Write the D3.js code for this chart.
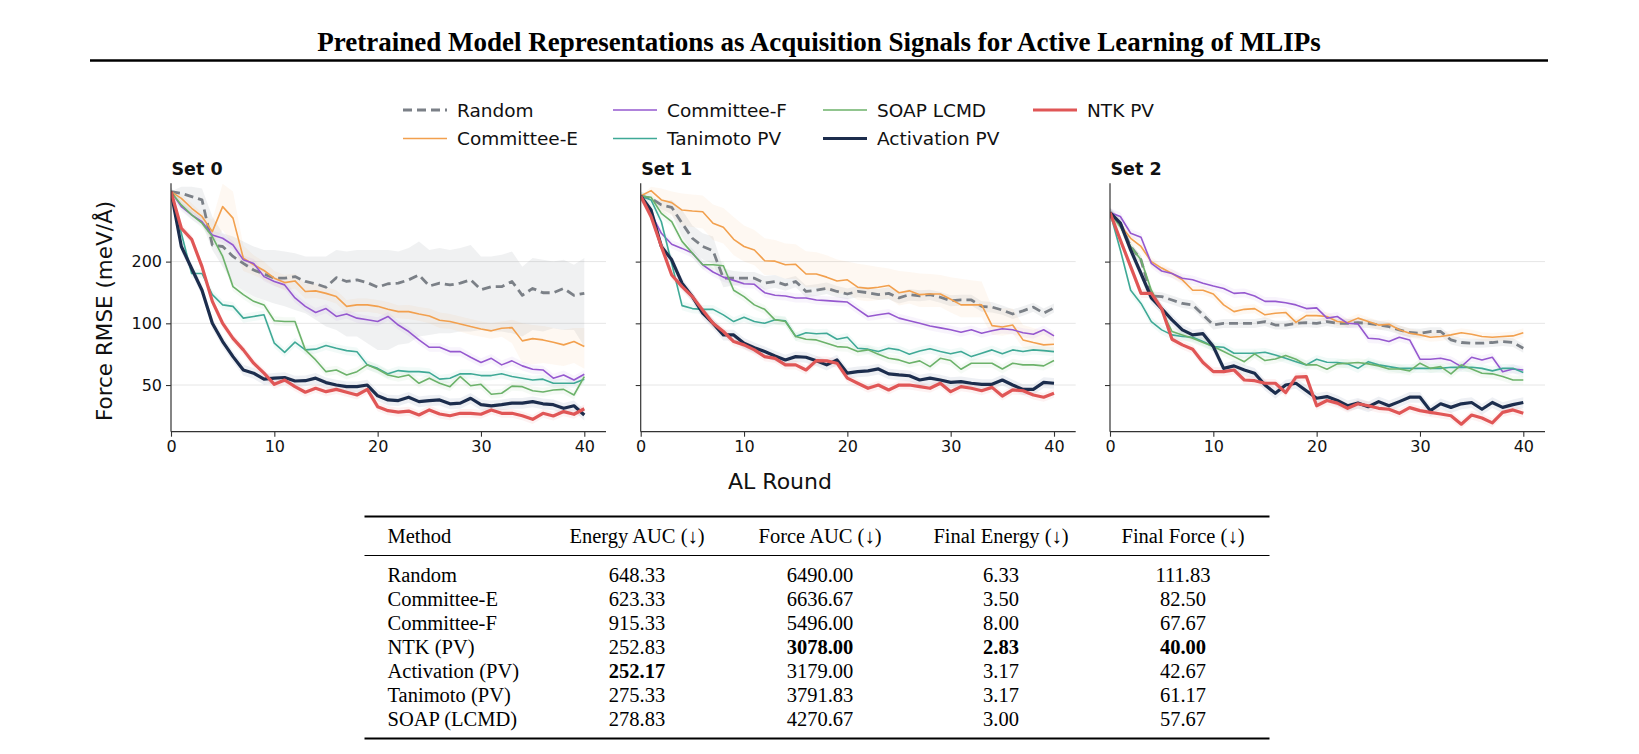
<!DOCTYPE html>
<html><head><meta charset="utf-8">
<script src="https://cdn.jsdelivr.net/npm/d3@7"></script>
<style>body{margin:0;background:#fff} svg{display:block}</style>
</head><body>
<svg id="c" width="1639" height="754"></svg>
<script>
// ---------------- DATA ----------------
const rounds = d3.range(0, 41);
const setNames = ["Set 0", "Set 1", "Set 2"];
const methods = ["Random", "Committee-E", "Committee-F", "Tanimoto PV", "SOAP LCMD", "Activation PV", "NTK PV"];
const yTicks = [50, 100, 200];
const xTicks = [0, 10, 20, 30, 40];

// Set 0
const random0 = [439,431,415,400,241,237,212,196,182,174,166,166,169,160,156,150,167,160,163,158,150,156,157,163,172,152,157,154,157,163,146,151,151,160,137,148,141,141,148,137,140];
const ce0 = [439,407,364,332,280,371,326,208,193,181,166,158,161,143,144,140,135,121,123,123,121,117,114,114,111,108.6,103.5,102,99.3,96.4,93.9,91.9,94.6,95.3,82.1,84.2,83,80.9,78.5,81.5,77];
const cf0 = [439,371,338,313,270,260,241,204,196,169,160,154,133,121,113,118,108,111,106,104,102,108,98.1,91.2,83,76.4,76.4,72.8,72.8,68.3,64.4,67.5,62.7,65.6,62,59.7,59.2,54,56,52.9,56.4];
const tan0 = [439,275,175,175,138,123,121,106,108,110,80,72.2,80.9,74.2,74.8,77.9,75.6,73.6,72.6,62.7,60.3,56.7,58.8,58.1,58.1,57.5,53.4,54,56.7,56.7,55.6,55.6,56.7,55,54,52.9,53.4,51,51,51,53.4];
const soap0 = [439,378,338,308,265,212,151,138,128,123,103,102,102,74.2,66.3,58.1,59.2,56,58.1,62.7,59.7,56,54.6,56,51,54,51,49.1,55,49.6,50.4,45.1,45.6,49.4,49.1,46.9,46.2,47.3,47.6,44.7,55];
const act0 = [439,237,185,145,100,81.5,68.8,59.2,57.1,53.4,54,54.4,52.3,52.5,54,51.4,50,49.1,49.1,50,44.3,42.3,42,43.6,41.5,42,42.3,40.5,40.8,43.1,40.1,39.6,40.1,40.8,40.8,41.5,40.5,40.1,38.5,39.6,35.7];
const ntk0 = [439,291,257,189,128,100,84.5,74.2,63.9,57.1,50.4,52.9,49.1,46.1,48.2,46.4,47.6,46.1,44.7,47.6,39.2,37.5,36.9,37.3,35.7,37.8,36.1,35.4,36.4,36.4,36,37.8,36.4,36.4,35.4,34,36.4,35.3,37.1,36,38.3];

// Set 1
const random1 = [418,407,378,368,308,260,237,226,166,166,166,166,157,160,154,160,143,145,148,143,139,143,141,138,140,133,138,136,138,134,129,130,130,121,120,116,111,115,120,112,119];
const ce1 = [418,444,400,388,357,353,350,308,294,257,237,228,202,201,193,194,174,174,168,161,163,150,148,150,153,141,144,138,139,139,131,123,123,123,97.4,95.9,98.1,83,80.6,78.5,79];
const cf1 = [418,344,275,243,232,220,193,178,168,162,156,155,141,137,136,133,133,130,129,128,127,117,108,110,112,106,103,100,97,95,93,90.5,93,89.5,92,94,93,90,88.5,93,86.8];
const tan1 = [418,400,313,196,122,118,117,117,110,102,107,102,100,104,103,86.2,90,89,89.5,83.6,85.5,75.6,74.8,72.8,75.6,74.2,70.7,73.3,75.1,72.8,71,72.8,68.8,71.5,74.2,71,74.2,72.8,74.2,73.6,72.8];
const soap1 = [418,412,344,313,251,220,193,193,191,145,135,123,117,104,102,86.2,83.6,83,80,77,76.4,72.8,74.2,70.7,67.5,66.3,63.9,65.6,61.5,67.5,65.8,59.7,63.9,63.9,63.9,59.9,63.9,62.7,62.7,62,65.8];
const act1 = [418,357,237,204,157,135,112,100,87.8,87.8,80,76.1,72.8,69.3,66.3,68.8,68.3,65.6,62.7,66.3,57.1,58.1,58.6,59.9,56.7,56,55.5,52.9,54,52.9,51.5,51.9,51,50.4,50.4,52.9,50,47.6,47.6,51.5,51];
const ntk1 = [418,332,237,172,151,135,116,100,91.2,81.5,78.5,74.2,68.8,67.5,62.7,62.7,59.2,65.8,65.6,63.9,54,51,48.2,50,47.3,50,50,49.1,48.2,51,46.4,49.1,48.2,46.9,48.7,44.2,47.3,46.9,44.7,43.6,45.6];

// Set 2
const random2 = [347,308,237,204,136,135,130,125,123,110,98.1,100,100,100,100,102,98.1,98.1,100,100.7,100,102,100,100,100.7,100,98.1,96.4,92.9,90.2,89.5,91.2,91.2,83,80.6,80,80,80.6,81.5,80.6,75.6];
const ce2 = [347,302,260,237,200,186,175,163,145,145,139,123,114,117,118,110,112,113,101,109,109,108,102,101,106,102,98,99,93,89.5,87.8,85.5,86.2,87.8,90,88.5,86.2,85.5,86.2,86.8,90];
const cf2 = [347,332,275,263,196,180,175,166,163,157,152,148,140,141,136,128,128,126,123,118,119,106,108,100,99.3,84.5,83.9,81.5,85.5,83,66.8,66.8,67.5,65.8,61.5,68.3,66.3,68.3,58.1,59.9,59.2];
const tan2 = [347,228,145,125,102,92.9,87.8,86.2,85.5,81.5,77,76.4,71.5,71.5,71.5,72.2,70,67.5,65,62.7,66.8,64.6,64.4,63.4,60.3,65,62.7,61.5,60.3,60.3,60.3,60.3,60.3,61,61,61,60.3,58.6,60.3,60.3,57.5];
const soap2 = [347,296,237,204,145,116,91.2,87.8,84.5,80.6,77,72.8,68.8,65,71,65.8,67,69.6,66.8,62.7,62.7,59.7,63.4,63.9,64.4,63.4,62,59.9,59.9,58.6,63.9,60.3,61.5,56.7,62.7,59.9,57.1,56.7,55,52.9,52.9];
const act2 = [347,308,228,175,133,118,104,92.9,87.8,89,77,60.3,62,59.2,57.1,50,45.6,50,51,46.9,43.1,43.9,42,39.6,40.8,39.2,41.5,39.6,41.5,43.6,43.6,37.5,40.5,38.9,40.5,41.1,38.1,41.1,38.9,40.1,41.1];
const ntk2 = [347,255,189,140,140,118,83.6,78.5,74.8,64.4,58.1,58.1,59.2,52.9,52.5,51,51,45.9,54.6,55,39.6,42,40.8,38.5,40.5,39.6,38.5,38.1,36.4,38.8,37.5,36.8,36.1,35.4,32.2,35.7,34.5,32.7,36.8,37.8,36.4];

// Visible spread bands (lower / upper)
const random0Lo = [439,385,332,308,228,189,157,145,135,130,125,121,116,112,104,96.4,92.9,86.2,86.2,80,74.2,74.2,78.5,80,86.2,87.8,89.5,89.5,91.2,91.2,92.9,91.2,91.2,89.5,86.2,92.9,91.2,94.6,92.9,92.9,77];
const random0Hi = [439,464,464,455,332,275,265,251,237,228,228,224,220,212,212,212,228,224,228,228,228,228,224,233,251,228,233,228,233,241,212,212,216,224,189,208,204,200,204,193,208];
const ce0Lo = [439,390,345,320,245,285,240,180,172,163,153,145,148,132,133,130,125,112,114,114,112,108,106,105,103,100,95,94,91,88,86,84,86,80,64,63,64,63,62,64,60];
const ce0Hi = [439,425,385,345,320,480,440,240,215,200,180,172,175,155,156,150,145,130,132,132,130,127,122,123,120,118,113,111,108,105,102,100,102,104,100,98,97,95,93,95,95];
const random1Lo = [418,400,360,340,265,225,205,195,150,153,154,155,146,149,144,150,134,136,139,134,131,134,133,130,131,125,129,128,130,126,121,122,122,114,113,110,105,109,114,106,113];
const random1Hi = [418,410,395,400,357,300,275,265,185,180,178,178,170,172,165,170,153,155,158,152,148,152,150,147,150,141,147,145,146,142,137,138,138,128,127,122,117,121,126,118,125];
const ce1Lo = [418,425,345,335,300,295,290,255,245,215,200,192,172,172,165,165,150,150,145,140,140,130,128,130,132,122,125,120,120,120,113,107,107,107,88,87,89,76,74,72,72];
const ce1Hi = [418,464,455,440,430,425,420,380,365,330,300,285,260,255,245,243,225,222,215,205,200,195,192,188,185,180,178,175,174,172,168,165,162,160,120,118,118,98,95,92,90];

const tableHeader = ["Method", "Energy AUC (\u2193)", "Force AUC (\u2193)", "Final Energy (\u2193)", "Final Force (\u2193)"];
const tableMethods = ["Random", "Committee-E", "Committee-F", "NTK (PV)", "Activation (PV)", "Tanimoto (PV)", "SOAP (LCMD)"];
const energyAUC = ["648.33", "623.33", "915.33", "252.83", "252.17", "275.33", "278.83"];
const forceAUC = ["6490.00", "6636.67", "5496.00", "3078.00", "3179.00", "3791.83", "4270.67"];
const finalEnergy = ["6.33", "3.50", "8.00", "2.83", "3.17", "3.17", "3.00"];
const finalForce = ["111.83", "82.50", "67.67", "40.00", "42.67", "61.17", "57.67"];
const boldCells = [[4,1],[3,2],[3,3],[3,4]]; // [row, col]

// ---------------- STYLE ----------------
const style = {
  "Random":        {color:"#7b8087", width:2.8, dash:"9,5", bandColor:"#8c939b", bandOp:0.13, spread:0.05},
  "Committee-E":   {color:"#f2a04e", width:1.6, dash:null, bandColor:"#f6a856", bandOp:0.08, spread:0.05},
  "Committee-F":   {color:"#9558cf", width:1.6, dash:null, bandColor:"#a46fd8", bandOp:0.08, spread:0.05},
  "Tanimoto PV":   {color:"#3fa996", width:1.6, dash:null, bandColor:"#58b9a8", bandOp:0.08, spread:0.05},
  "SOAP LCMD":     {color:"#6cb26a", width:1.6, dash:null, bandColor:"#7cbc7a", bandOp:0.08, spread:0.05},
  "Activation PV": {color:"#1c2d4d", width:3.2, dash:null, bandColor:"#5b6f94", bandOp:0.10, spread:0.06},
  "NTK PV":        {color:"#e05656", width:3.2, dash:null, bandColor:"#e57070", bandOp:0.09, spread:0.05}
};

const sets = [
  {"Random":random0,"Committee-E":ce0,"Committee-F":cf0,"Tanimoto PV":tan0,"SOAP LCMD":soap0,"Activation PV":act0,"NTK PV":ntk0,
   bands:{"Random":[random0Lo,random0Hi],"Committee-E":[ce0Lo,ce0Hi]}},
  {"Random":random1,"Committee-E":ce1,"Committee-F":cf1,"Tanimoto PV":tan1,"SOAP LCMD":soap1,"Activation PV":act1,"NTK PV":ntk1,
   bands:{"Random":[random1Lo,random1Hi],"Committee-E":[ce1Lo,ce1Hi]}},
  {"Random":random2,"Committee-E":ce2,"Committee-F":cf2,"Tanimoto PV":tan2,"SOAP LCMD":soap2,"Activation PV":act2,"NTK PV":ntk2,
   bands:{}}
];

const svg = d3.select("#c");
const sans = "'DejaVu Sans', sans-serif";
const serif = "'Liberation Serif', 'Times New Roman', serif";

// Title + rule
svg.append("text").attr("x", 819).attr("y", 51).attr("text-anchor","middle")
  .attr("font-family", serif).attr("font-weight","bold").attr("font-size", 27)
  .text("Pretrained Model Representations as Acquisition Signals for Active Learning of MLIPs");
svg.append("line").attr("x1",90).attr("x2",1548).attr("y1",60.5).attr("y2",60.5)
  .attr("stroke","#000").attr("stroke-width",2.6);

// Legend
const legCols = [403, 613, 823, 1033];
const legRows = [110, 138.5];
methods.forEach((m,i)=>{
  const col = Math.floor(i/2), row = i%2;
  const s = style[m];
  const lx = legCols[col], ly = legRows[row];
  svg.append("line").attr("x1",lx).attr("x2",lx+44).attr("y1",ly).attr("y2",ly)
    .attr("stroke",s.color).attr("stroke-width",s.width).attr("stroke-dasharray",s.dash);
  svg.append("text").attr("x",lx+54).attr("y",ly).attr("dy","0.36em")
    .attr("font-family",sans).attr("font-size",18.5).attr("fill","#111").text(m);
});

// Panels
const px0 = [171, 640.7, 1110];
const pw = 435, ptop = 183.3, pbot = 431.7;

sets.forEach((set, si)=>{
  const x0 = px0[si];
  const x = d3.scaleLinear().domain([0, 42.1]).range([x0, x0+pw]);
  const y = d3.scaleLog().domain([29.6, 482]).range([pbot, ptop]);
  const g = svg.append("g");
  const clipId = "clip"+si;
  svg.append("clipPath").attr("id",clipId).append("rect")
    .attr("x",x0).attr("y",ptop).attr("width",pw).attr("height",pbot-ptop);

  // grid
  g.selectAll(".grid").data(yTicks).join("line")
    .attr("x1",x0).attr("x2",x0+pw).attr("y1",d=>y(d)).attr("y2",d=>y(d))
    .attr("stroke","#e6e6e6").attr("stroke-width",1);

  const plot = g.append("g").attr("clip-path",`url(#${clipId})`);
  // bands
  methods.forEach(m=>{
    const s = style[m];
    const vals = set[m];
    let lo, hi;
    if (set.bands[m]) { lo = set.bands[m][0]; hi = set.bands[m][1]; }
    else { lo = vals.map(v=>v*(1-s.spread)); hi = vals.map(v=>v*(1+s.spread)); }
    const area = d3.area().x((d,i)=>x(rounds[i])).y0((d,i)=>y(lo[i])).y1((d,i)=>y(hi[i]));
    plot.append("path").datum(vals).attr("d",area)
      .attr("fill",s.bandColor).attr("fill-opacity",s.bandOp).attr("stroke","none");
  });
  // lines
  methods.forEach(m=>{
    const s = style[m];
    const line = d3.line().x((d,i)=>x(rounds[i])).y(d=>y(d));
    plot.append("path").datum(set[m]).attr("d",line).attr("fill","none")
      .attr("stroke",s.color).attr("stroke-width",s.width)
      .attr("stroke-dasharray",s.dash).attr("stroke-linejoin","round");
  });

  // axes
  const xa = d3.axisBottom(x).tickValues(xTicks).tickSize(5).tickPadding(4).tickFormat(d3.format("d"));
  const gx = g.append("g").attr("transform",`translate(0,${pbot})`).call(xa);
  gx.select(".domain").remove();
  gx.selectAll("text").attr("font-family",sans).attr("font-size",16).attr("fill","#111");
  gx.selectAll("line").attr("stroke","#333").attr("stroke-width",1.1);

  const ya = d3.axisLeft(y).tickValues(yTicks).tickSize(5).tickPadding(4)
    .tickFormat(si===0 ? d3.format("d") : ()=>"");
  const gy = g.append("g").attr("transform",`translate(${x0},0)`).call(ya);
  gy.select(".domain").remove();
  gy.selectAll("text").attr("font-family",sans).attr("font-size",16).attr("fill","#111");
  gy.selectAll("line").attr("stroke","#333").attr("stroke-width",1.1);

  // spines
  g.append("line").attr("x1",x0).attr("x2",x0).attr("y1",ptop).attr("y2",pbot)
    .attr("stroke","#333").attr("stroke-width",1.2);
  g.append("line").attr("x1",x0).attr("x2",x0+pw).attr("y1",pbot).attr("y2",pbot)
    .attr("stroke","#333").attr("stroke-width",1.2);

  // panel title
  g.append("text").attr("x",x0+0.5).attr("y",175).attr("font-family",sans)
    .attr("font-weight","bold").attr("font-size",17.5).attr("fill","#111").text(setNames[si]);
});

// axis labels
svg.append("text").attr("x",780).attr("y",489).attr("text-anchor","middle")
  .attr("font-family",sans).attr("font-size",22).attr("fill","#111").text("AL Round");
svg.append("text").attr("transform","translate(112,311) rotate(-90)").attr("text-anchor","middle")
  .attr("font-family",sans).attr("font-size",21.5).attr("fill","#111").text("Force RMSE (meV/\u00C5)");

// Table
const tx0 = 364.5, tx1 = 1269.5;
const colX = [387.5, 637, 820, 1001, 1183];
svg.append("line").attr("x1",tx0).attr("x2",tx1).attr("y1",516.5).attr("y2",516.5).attr("stroke","#000").attr("stroke-width",2);
svg.append("line").attr("x1",tx0).attr("x2",tx1).attr("y1",555.5).attr("y2",555.5).attr("stroke","#000").attr("stroke-width",1.2);
svg.append("line").attr("x1",tx0).attr("x2",tx1).attr("y1",738.5).attr("y2",738.5).attr("stroke","#000").attr("stroke-width",2);

tableHeader.forEach((h,ci)=>{
  svg.append("text").attr("x",colX[ci]).attr("y",543)
    .attr("text-anchor", ci===0?"start":"middle")
    .attr("font-family",serif).attr("font-size",20.5).attr("fill","#000").text(h);
});
const cols = [tableMethods, energyAUC, forceAUC, finalEnergy, finalForce];
tableMethods.forEach((m,ri)=>{
  cols.forEach((c,ci)=>{
    const bold = boldCells.some(b=>b[0]===ri && b[1]===ci);
    svg.append("text").attr("x",colX[ci]).attr("y",582+ri*24)
      .attr("text-anchor", ci===0?"start":"middle")
      .attr("font-family",serif).attr("font-size",20.5)
      .attr("font-weight", bold?"bold":"normal").attr("fill","#000").text(c[ri]);
  });
});
</script>
</body></html>
